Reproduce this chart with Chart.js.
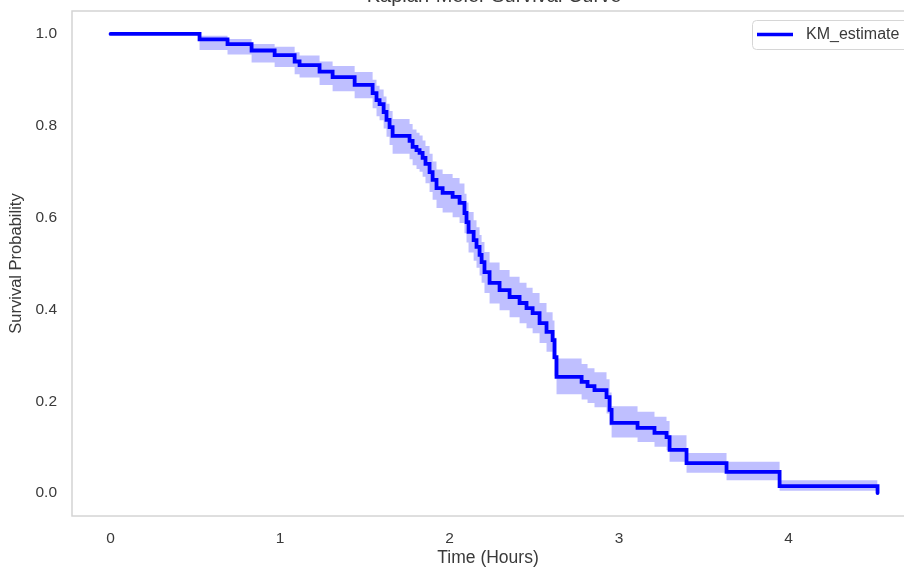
<!DOCTYPE html>
<html>
<head>
<meta charset="utf-8">
<title>Kaplan-Meier Survival Curve</title>
<script src="https://cdn.jsdelivr.net/npm/chart.js@4.4.1/dist/chart.umd.min.js"></script>
<style>
  body { margin: 0; background: #fff; }
  #kmChart { display: block; }
</style>
</head>
<body>
<canvas id="kmChart" width="904" height="569"></canvas>
<script>
// temps des événements (heures) et estimation de survie après chaque événement
const times = [0, 0.525, 0.690, 0.832, 0.968, 1.086, 1.115, 1.233, 1.310, 1.440,
  1.546, 1.569, 1.587, 1.611, 1.628, 1.646, 1.664, 1.764, 1.782, 1.805,
  1.823, 1.841, 1.858, 1.882, 1.900, 1.923, 1.959, 2.018, 2.059, 2.088,
  2.100, 2.112, 2.142, 2.159, 2.177, 2.189, 2.206, 2.236, 2.295, 2.354,
  2.413, 2.454, 2.490, 2.531, 2.572, 2.608, 2.619, 2.631, 2.779, 2.814,
  2.855, 2.926, 2.944, 2.956, 3.109, 3.209, 3.280, 3.298, 3.398, 3.634,
  3.947, 4.525];
const survival = [1.000, 0.988, 0.978, 0.964, 0.954, 0.940, 0.932, 0.918, 0.906, 0.889,
  0.871, 0.856, 0.847, 0.830, 0.813, 0.797, 0.778, 0.767, 0.754, 0.747,
  0.741, 0.730, 0.717, 0.699, 0.682, 0.664, 0.654, 0.645, 0.632, 0.610,
  0.590, 0.569, 0.551, 0.536, 0.519, 0.503, 0.481, 0.458, 0.442, 0.427,
  0.414, 0.403, 0.392, 0.370, 0.351, 0.333, 0.296, 0.253, 0.242, 0.233,
  0.224, 0.209, 0.181, 0.153, 0.142, 0.131, 0.122, 0.094, 0.065, 0.046,
  0.015, 0.000];
// intervalle de confiance (bornes basse et haute)
const ciLower = [1.000, 0.965, 0.955, 0.938, 0.928, 0.912, 0.905, 0.889, 0.875, 0.860,
  0.838, 0.821, 0.812, 0.794, 0.776, 0.758, 0.739, 0.727, 0.714, 0.706,
  0.700, 0.689, 0.675, 0.656, 0.639, 0.621, 0.611, 0.601, 0.588, 0.566,
  0.546, 0.524, 0.506, 0.491, 0.474, 0.458, 0.436, 0.413, 0.398, 0.383,
  0.370, 0.359, 0.348, 0.327, 0.308, 0.291, 0.255, 0.215, 0.204, 0.196,
  0.187, 0.173, 0.147, 0.121, 0.111, 0.101, 0.093, 0.068, 0.044, 0.028,
  0.005, 0.000];
const ciUpper = [1.000, 0.996, 0.989, 0.978, 0.972, 0.960, 0.953, 0.940, 0.930, 0.917,
  0.900, 0.887, 0.879, 0.864, 0.848, 0.832, 0.815, 0.804, 0.792, 0.785,
  0.779, 0.768, 0.756, 0.739, 0.722, 0.705, 0.695, 0.686, 0.674, 0.652,
  0.633, 0.612, 0.594, 0.579, 0.562, 0.547, 0.525, 0.502, 0.486, 0.471,
  0.458, 0.447, 0.436, 0.414, 0.394, 0.376, 0.338, 0.293, 0.281, 0.272,
  0.263, 0.248, 0.219, 0.189, 0.177, 0.166, 0.157, 0.126, 0.087, 0.068,
  0.028, 0.000];

const xTicks = [0, 1, 2, 3, 4];
const yTicks = [0.0, 0.2, 0.4, 0.6, 0.8, 1.0];
const seriesLabel = 'KM_estimate';
const chartTitle = 'Kaplan-Meier Survival Curve';

const FONT = '"Liberation Sans", Arial, sans-serif';
const TEXT = '#3a3a3a';

function toPoints(values) {
  return times.map((t, i) => ({ x: t, y: values[i] }));
}

// cadre gris autour de la zone du graphique
const framePlugin = {
  id: 'frame',
  beforeDatasetsDraw(chart) {
    const { ctx, chartArea: a } = chart;
    ctx.save();
    ctx.strokeStyle = '#d4d4d4';
    ctx.lineWidth = 1.5;
    ctx.strokeRect(a.left, a.top, a.right - a.left + 20, a.bottom - a.top);
    ctx.restore();
  }
};

// titre (coupé en haut comme sur l'original) + légende
const titleLegendPlugin = {
  id: 'titleLegend',
  afterDraw(chart) {
    const ctx = chart.ctx;
    ctx.save();
    ctx.fillStyle = TEXT;
    ctx.font = '20px ' + FONT;
    ctx.textAlign = 'center';
    ctx.textBaseline = 'alphabetic';
    ctx.fillText(chartTitle, 494, 2);

    // boîte de légende
    ctx.fillStyle = 'rgba(255,255,255,0.85)';
    ctx.strokeStyle = '#d6d6d6';
    ctx.lineWidth = 1;
    ctx.beginPath();
    ctx.roundRect(752.5, 20.5, 170, 29, 4);
    ctx.fill();
    ctx.stroke();
    ctx.strokeStyle = '#0000ff';
    ctx.lineWidth = 3.5;
    ctx.beginPath();
    ctx.moveTo(757, 34.5);
    ctx.lineTo(793, 34.5);
    ctx.stroke();
    ctx.fillStyle = TEXT;
    ctx.font = '16px ' + FONT;
    ctx.textAlign = 'left';
    ctx.textBaseline = 'middle';
    ctx.fillText(seriesLabel, 806, 35);
    ctx.restore();
  }
};

new Chart(document.getElementById('kmChart'), {
  type: 'line',
  data: {
    datasets: [
      {
        label: seriesLabel,
        data: toPoints(survival),
        borderColor: '#0000ff',
        borderWidth: 3.8,
        borderCapStyle: 'round',
        stepped: true,
        pointRadius: 0,
        fill: false,
        order: 0
      },
      {
        label: 'lower',
        data: toPoints(ciLower),
        borderWidth: 0,
        borderColor: 'rgba(0,0,0,0)',
        backgroundColor: 'rgba(0,0,255,0.25)',
        stepped: true,
        pointRadius: 0,
        fill: '+1',
        order: 1
      },
      {
        label: 'upper',
        data: toPoints(ciUpper),
        borderWidth: 0,
        borderColor: 'rgba(0,0,0,0)',
        stepped: true,
        pointRadius: 0,
        fill: false,
        order: 2
      }
    ]
  },
  options: {
    responsive: false,
    animation: false,
    layout: { autoPadding: false, padding: { top: 11, right: 0, bottom: 0, left: 0 } },
    plugins: {
      legend: { display: false },
      title: { display: false },
      tooltip: { enabled: false }
    },
    scales: {
      x: {
        type: 'linear',
        min: -0.2275,
        max: 4.681,
        afterBuildTicks: s => { s.ticks = xTicks.map(v => ({ value: v })); },
        afterFit: s => { s.height = 53; s.paddingLeft = 0; s.paddingRight = 0; },
        grid: { display: false, drawTicks: false },
        border: { display: false },
        ticks: {
          padding: 13,
          color: TEXT,
          font: { family: FONT, size: 15.5 },
          maxRotation: 0,
          callback: v => String(v)
        },
        title: {
          display: true,
          text: 'Time (Hours)',
          color: TEXT,
          font: { family: FONT, size: 17.5 },
          padding: { top: 0, bottom: 0 }
        }
      },
      y: {
        type: 'linear',
        min: -0.05,
        max: 1.05,
        afterBuildTicks: s => { s.ticks = yTicks.map(v => ({ value: v })); },
        afterFit: s => { s.width = 72; s.paddingTop = 0; s.paddingBottom = 0; },
        grid: { display: false, drawTicks: false },
        border: { display: false },
        ticks: {
          padding: 15,
          color: TEXT,
          font: { family: FONT, size: 15.5 },
          callback: v => Number(v).toFixed(1)
        },
        title: {
          display: true,
          text: 'Survival Probability',
          color: TEXT,
          font: { family: FONT, size: 16.5 },
          padding: { top: 7, bottom: 0 }
        }
      }
    }
  },
  plugins: [framePlugin, titleLegendPlugin]
});
</script>
</body>
</html>
